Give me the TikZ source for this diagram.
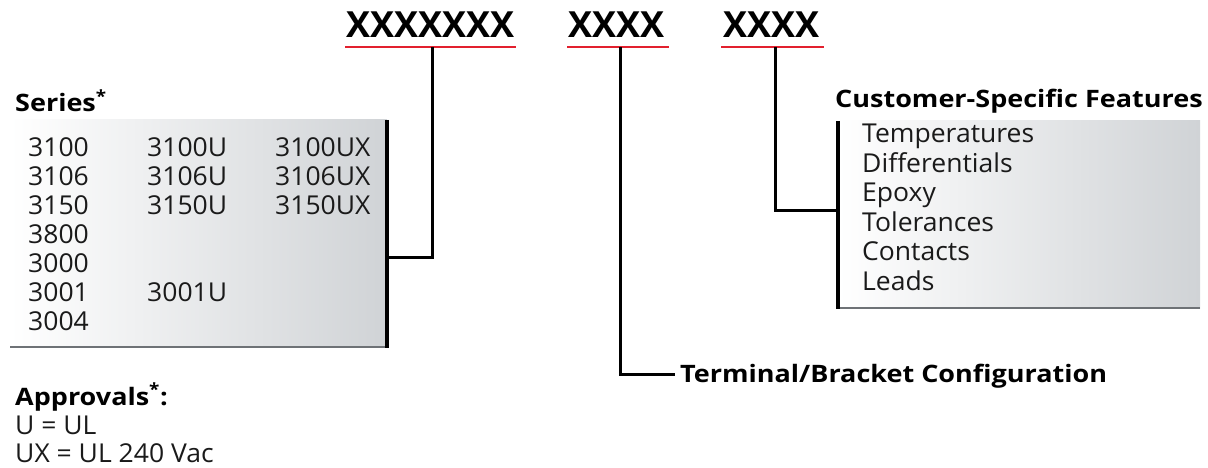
\documentclass[tikz,border=0pt]{standalone}
\usepackage{graphicx}
\usepackage{fontspec}
\setmainfont{Open Sans}
\definecolor{hred}{HTML}{E2202E}
\definecolor{boxgray}{HTML}{D0D3D6}
\definecolor{rulegray}{HTML}{6E7276}
\definecolor{txt}{HTML}{1A1A1A}
\newcommand{\hdtext}[1]{\scalebox{1.125}[1]{#1}}
\newcommand{\ittext}[1]{\scalebox{1.02}[1]{#1}}
\tikzset{
  code/.style={anchor=base west, inner sep=0pt, font=\bfseries\fontsize{36}{36}\selectfont},
  head/.style={anchor=base west, inner sep=0pt, font=\bfseries\fontsize{24}{24}\selectfont},
  item/.style={anchor=base west, inner sep=0pt, text=txt, font=\fontsize{26}{26}\selectfont},
  redline/.style={draw=hred, line width=2.5pt},
  conn/.style={draw=black, line width=3pt},
  bar/.style={draw=black, line width=4.5pt},
}
\begin{document}
\begin{tikzpicture}[x=1pt,y=-1pt]
\useasboundingbox (0,0) rectangle (1208,468);
% codes
\node[code] (c1) at (346,38) {XXXXXXX};
\node[code] (c2) at (568,38) {XXXX};
\node[code] (c3) at (723,38) {XXXX};
\draw[redline] (345,47) -- (516,47);
\draw[redline] (567,47) -- (669,47);
\draw[redline] (721,47) -- (824,47);
% series box
\shade[left color=white, right color=boxgray] (10,120) rectangle (387,347);
\draw[draw=rulegray, line width=2pt] (10,347) -- (387,347);
\draw[bar] (387,120) -- (387,348);
\node[head] (series) at (15,112) {\hdtext{Series\textsuperscript{*}}};
\foreach \t [count=\i from 0] in {3100,3106,3150,3800,3000,3001,3004}
  \node[item] (s\i) at (28,157+28.9*\i) {\ittext{\t}};
\node[item] (u0) at (147,157) {\ittext{3100U}};
\node[item] (u1) at (147,185.9) {\ittext{3106U}};
\node[item] (u2) at (147,214.8) {\ittext{3150U}};
\node[item] (u5) at (147,301.5) {\ittext{3001U}};
\node[item] (x0) at (275,157) {\ittext{3100UX}};
\node[item] (x1) at (275,185.9) {\ittext{3106UX}};
\node[item] (x2) at (275,214.8) {\ittext{3150UX}};
% customer box
\shade[left color=white, right color=boxgray] (838,121) rectangle (1200,308);
\draw[draw=rulegray, line width=2pt] (838,308) -- (1200,308);
\draw[bar] (838,121) -- (838,309);
\node[head] (cust) at (835,108) {\hdtext{Customer-Specific Features}};
\foreach \t [count=\i from 0] in {Temperatures,Differentials,Epoxy,Tolerances,Contacts,Leads}
  \node[item] (f\i) at (862,143+29.4*\i) {\ittext{\t}};
% terminal
\node[head] (term) at (680,382) {\hdtext{Terminal/Bracket Configuration}};
% approvals
\node[head] (appr) at (15,405) {\hdtext{Approvals\textsuperscript{*}:}};
\node[item] (a1) at (15,434) {\ittext{U = UL}};
\node[item] (a2) at (15,462) {\ittext{UX = UL 240 Vac}};
% connectors
\coordinate (p1) at (432,257);
\coordinate (p2) at (620,374);
\coordinate (p3) at (775,210);
\draw[conn] (432,47) -- (p1) -- (387,257);
\draw[conn] (620,47) -- (p2) -- ([xshift=-5pt]term.west |- p2);
\draw[conn] (775,47) -- (p3) -- (838,210);
\end{tikzpicture}
\end{document}
